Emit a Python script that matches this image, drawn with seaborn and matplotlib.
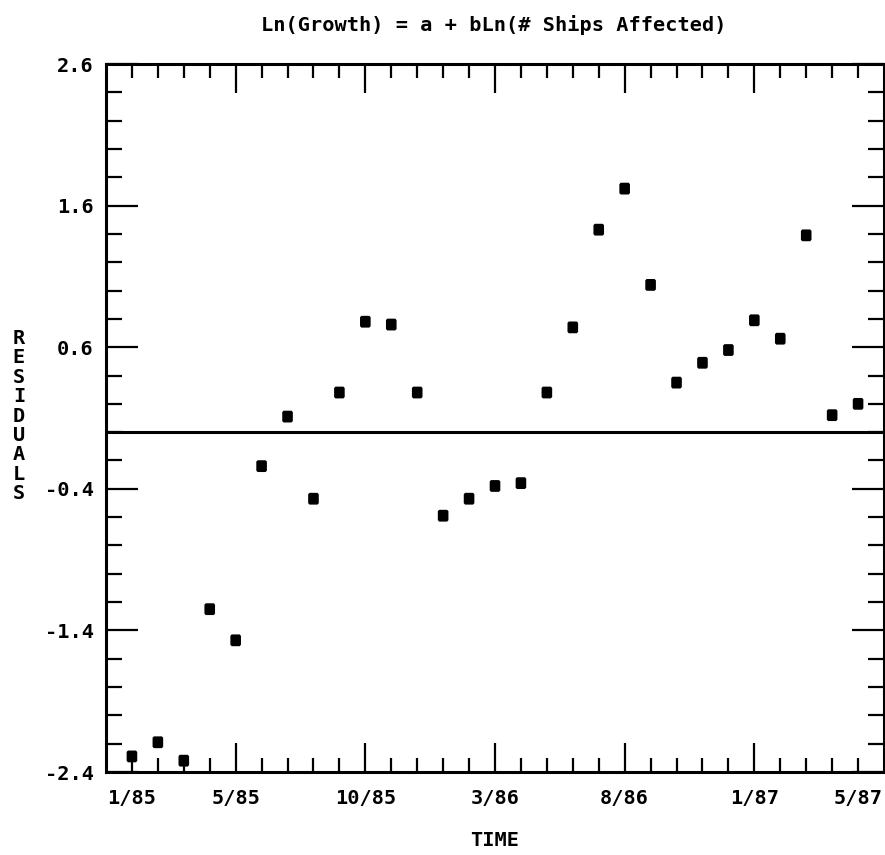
import numpy as np
import pandas as pd
import matplotlib
matplotlib.use("Agg")
import matplotlib.pyplot as plt
import seaborn as sns

# Monthly residuals of the log-log growth regression, 1/85 through 5/87
months = ["1/85", "2/85", "3/85", "4/85", "5/85", "6/85", "7/85", "8/85",
          "9/85", "10/85", "11/85", "12/85", "1/86", "2/86", "3/86", "4/86",
          "5/86", "6/86", "7/86", "8/86", "9/86", "10/86", "11/86", "12/86",
          "1/87", "2/87", "3/87", "4/87", "5/87"]
residuals = [-2.29, -2.19, -2.32, -1.25, -1.47, -0.24, 0.11, -0.47,
             0.28, 0.78, 0.76, 0.28, -0.59, -0.47, -0.38, -0.36,
             0.28, 0.74, 1.43, 1.72, 1.04, 0.35, 0.49, 0.58,
             0.79, 0.66, 1.39, 0.12, 0.20]

x_labels = ["1/85", "5/85", "10/85", "3/86", "8/86", "1/87", "5/87"]
long_tick_labels = ["5/85", "10/85", "3/86", "8/86", "1/87"]
y_labels = [2.6, 1.6, 0.6, -0.4, -1.4, -2.4]

df = pd.DataFrame({"t": np.arange(len(months)), "resid": residuals})

sns.set_style("white")
FONT = "DejaVu Sans Mono"
plt.rcParams["font.family"] = [FONT, "DejaVu Sans"]
plt.rcParams["font.weight"] = "bold"
plt.rcParams["text.color"] = "black"
plt.rcParams["xtick.color"] = "black"
plt.rcParams["ytick.color"] = "black"
plt.rcParams["axes.labelcolor"] = "black"

W, H = 885, 855
fig = plt.figure(figsize=(W / 100, H / 100), dpi=100)
ax = fig.add_axes([106 / W, 1 - 772 / H, 778 / W, 708 / H])

# small upright rounded-rectangle dots
dot = [(-0.34, -0.5), (0.34, -0.5), (0.45, -0.38), (0.45, 0.38),
       (0.34, 0.5), (-0.34, 0.5), (-0.45, 0.38), (-0.45, -0.38)]
sns.scatterplot(data=df, x="t", y="resid", marker=dot, s=72,
                color="black", edgecolor="none", linewidth=0, ax=ax,
                zorder=5, clip_on=False)

ax.axhline(0, color="black", lw=2.2, zorder=3)

ax.set_xlim(-1, 29)
ax.set_ylim(-2.4, 2.6)

# x ticks: every month, labelled ones at fixed months
idx = {m: i for i, m in enumerate(months)}
ax.set_xticks([idx[m] for m in x_labels])
ax.set_xticklabels(x_labels)
ax.set_xticks(np.arange(len(months)), minor=True)
ax.set_yticks(y_labels)
ax.set_yticklabels([f"{v:.1f}" for v in y_labels])
ax.set_yticks(np.arange(-2.4, 2.61, 0.2), minor=True)

ax.tick_params(axis="x", which="major", direction="in", length=21, width=1.6,
               top=True, bottom=True, labelsize=14.6, pad=12)
ax.tick_params(axis="x", which="minor", direction="in", length=10, width=1.6,
               top=True, bottom=True)
ax.tick_params(axis="y", which="major", direction="in", length=23, width=1.6,
               left=True, right=True, labelsize=14.6, pad=9)
ax.tick_params(axis="y", which="minor", direction="in", length=11.5, width=1.6,
               left=True, right=True)

# end labels sit on short ticks
for lab, tick in zip(x_labels, ax.xaxis.get_major_ticks()):
    if lab not in long_tick_labels:
        tick.tick1line.set_markersize(10)
        tick.tick2line.set_markersize(10)

for lab in ax.get_xticklabels() + ax.get_yticklabels():
    lab.set_fontweight("bold")

ax.set_xlabel("")
ax.set_ylabel("")
for sp in ax.spines.values():
    sp.set_visible(True)
    sp.set_linewidth(2.2)
    sp.set_color("black")

fig.text(494 / W, 1 - 25 / H, "Ln(Growth) = a + bLn(# Ships Affected)",
         ha="center", va="center", fontsize=14.6, fontweight="bold")
fig.text(495 / W, 1 - 840 / H, "TIME", ha="center", va="center",
         fontsize=14.6, fontweight="bold")
fig.text(19 / W, 1 - 416 / H, "\n".join("RESIDUALS"), ha="center",
         va="center", fontsize=14.6, fontweight="bold", linespacing=1.03)

fig.savefig("out.png", dpi=100, facecolor="white")
